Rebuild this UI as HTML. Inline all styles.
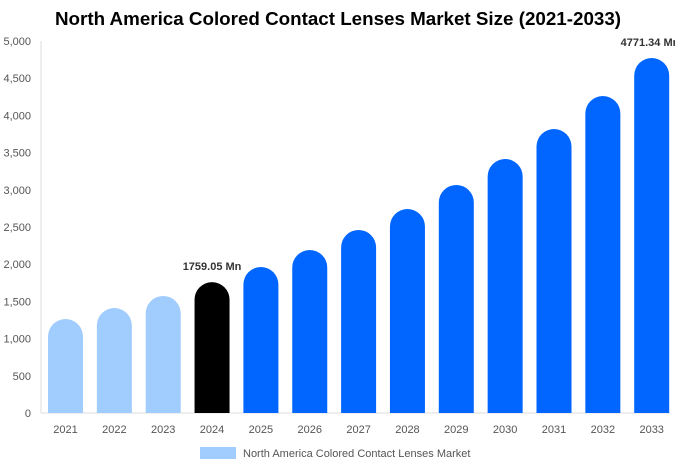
<!DOCTYPE html>
<html><head><meta charset="utf-8"><style>
body{margin:0;background:#fff;font-family:"Liberation Sans",Arial,sans-serif}
svg text{font-family:"Liberation Sans",Arial,sans-serif}
</style></head><body>
<svg id="chart" width="675" height="469" xmlns="http://www.w3.org/2000/svg">
<text x="338" y="25" text-anchor="middle" font-size="18.8" font-weight="bold" fill="#000">North America Colored Contact Lenses Market Size (2021-2033)</text>
<g id="grid"></g><g id="bars"></g><g id="labels"></g>
<g>
<rect x="200" y="447" width="36" height="12" fill="#a0cdfd"/>
<text x="243" y="457" font-size="11" fill="#555">North America Colored Contact Lenses Market</text>
</g>
</svg>
<script>
const categories=["2021","2022","2023","2024","2025","2026","2027","2028","2029","2030","2031","2032","2033"];
const values=[1263,1411,1573,1759.05,1962,2191,2460,2742,3065,3414,3817,4261,4771.34];
const yTicks=[0,500,1000,1500,2000,2500,3000,3500,4000,4500,5000];
const colorsByType=["light","light","light","current","f","f","f","f","f","f","f","f","f"];
const NS="http://www.w3.org/2000/svg";
const x0=41,step=48.85,bw=35,y0=413,yTop=41,yMax=5000;
const y=v=>y0-(v/yMax)*(y0-yTop);
const xc=i=>x0+24.5+i*step;
function mk(t,a,p){const e=document.createElementNS(NS,t);for(const k in a)e.setAttribute(k,a[k]);p.appendChild(e);return e;}
const grid=document.getElementById('grid'),bars=document.getElementById('bars'),labels=document.getElementById('labels');
yTicks.forEach(t=>{
 const tx=mk('text',{x:31,y:y(t)+4,'text-anchor':'end','font-size':11,fill:'#555'},grid);
 
 
 tx.textContent=t.toLocaleString('en-US');
});
const ax=mk('line',{x1:x0,y1:y0,x2:670,y2:y0,stroke:'#ddd'},grid);


const ay=mk('line',{x1:x0,y1:yTop,x2:x0,y2:y0,stroke:'#ddd'},grid);


const col={light:'#a0cdfd',current:'#000',f:'#0066ff'};
values.forEach((v,i)=>{
 const cx=xc(i),top=y(v),r=bw/2,l=cx-r;
 const d=`M${l},${y0} L${l},${top+r} A${r},${r} 0 0 1 ${l+bw},${top+r} L${l+bw},${y0} Z`;
 const p=mk('path',{d:d,fill:col[colorsByType[i]]},bars);
 
 
 const t=mk('text',{x:cx,y:y0+20,'text-anchor':'middle','font-size':11,fill:'#555'},labels);
 
 
 t.textContent=categories[i];
 if(i===3||i===values.length-1){
  const vl=mk('text',{x:i===values.length-1?Math.min(cx,650):cx,y:top-12,'text-anchor':'middle','font-size':11,'font-weight':'bold',fill:'#333'},labels);
  
  
  vl.textContent=v.toFixed(2)+' Mn';
 }
});
</script>
</body></html>
